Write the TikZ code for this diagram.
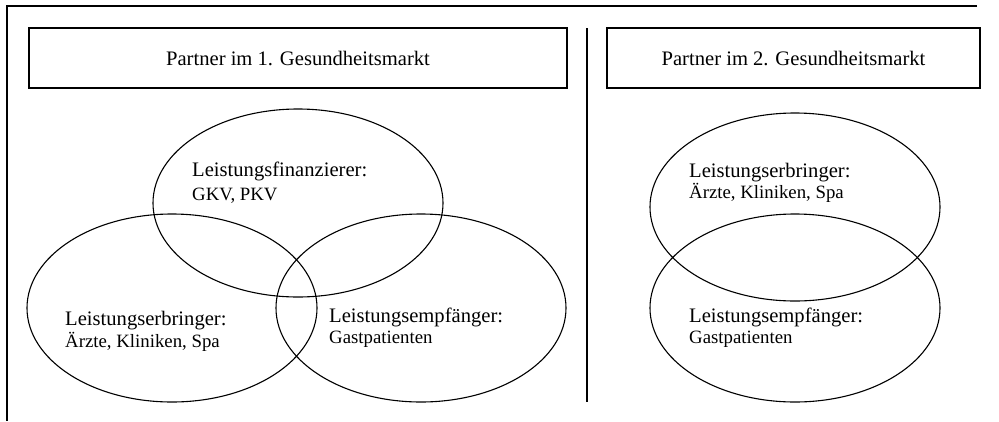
\documentclass[tikz,border=0pt]{standalone}
\usepackage{fontspec}
\setmainfont{Liberation Serif}
\usetikzlibrary{shapes.geometric}

\begin{document}
\begin{tikzpicture}[x=1pt, y=-1pt,
  venn/.style={draw, ellipse, line width=1.1pt, minimum width=290pt, minimum height=188pt, inner sep=0pt},
  headbox/.style={draw, line width=1.3pt, minimum width=#1, minimum height=60pt, inner sep=0pt, font=\fontsize{20.6}{24}\selectfont},
  role/.style={anchor=base west, inner sep=0pt, font=\fontsize{20.6}{24}\selectfont},
  who/.style={anchor=base west, inner sep=0pt, font=\fontsize{18.8}{22}\selectfont}]
  \useasboundingbox (0,0) rectangle (999,421);

  % frame and split
  \draw[line width=1.3pt] (977,6) -- (7,6) -- (7,421);
  \draw[line width=1.3pt] (587,28) -- (587,402);

  \node[headbox=538pt] (mkt1) at (298,58) {Partner im 1. Gesundheitsmarkt};
  \node[headbox=373pt] (mkt2) at (793.5,58) {Partner im 2. Gesundheitsmarkt};

  % 1. Gesundheitsmarkt
  \node[venn] (fin) at (298,203) {};
  \node[venn] (erb) at (172,308) {};
  \node[venn] (emp) at (421,308) {};

  % 2. Gesundheitsmarkt
  \node[venn] (erb2) at (795,207) {};
  \node[venn] (emp2) at (795,308) {};

  \path (fin.center) ++(-106,-27) node[role] (finT) {Leistungsfinanzierer:} ++(0,24) node[who] (finS) {GKV, PKV};
  \path (erb.center) ++(-107,17) node[role] (erbT) {Leistungserbringer:} ++(0,22) node[who] (erbS) {Ärzte, Kliniken, Spa};
  \path (emp.center) ++(-92,14) node[role] (empT) {Leistungsempfänger:} ++(0,21) node[who] (empS) {Gastpatienten};
  \path (erb2.center) ++(-106,-30) node[role] (erb2T) {Leistungserbringer:} ++(0,21) node[who] (erb2S) {Ärzte, Kliniken, Spa};
  \path (emp2.center) ++(-106,14) node[role] (emp2T) {Leistungsempfänger:} ++(0,21) node[who] (emp2S) {Gastpatienten};
\end{tikzpicture}
\end{document}
